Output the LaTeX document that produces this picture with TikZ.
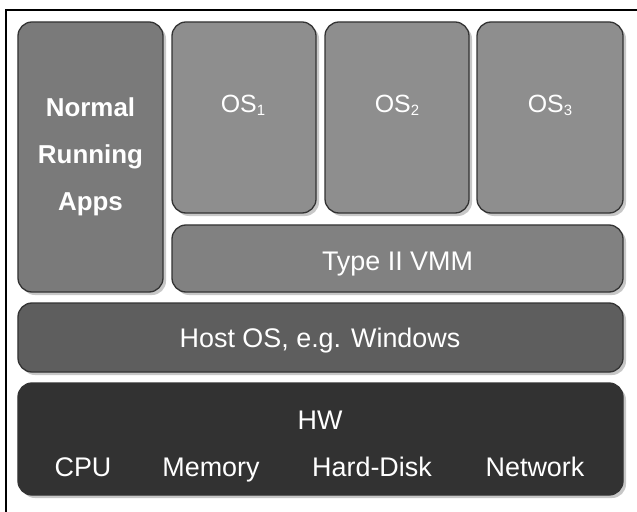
\documentclass[tikz,border=0pt]{standalone}
\usepackage{fontspec}
\setmainfont{Liberation Sans}
\usetikzlibrary{shadows}
\definecolor{edgecol}{HTML}{333333}
\definecolor{appsfill}{HTML}{7A7A7A}
\definecolor{osfill}{HTML}{8E8E8E}
\definecolor{vmmfill}{HTML}{818181}
\definecolor{hostfill}{HTML}{5E5E5E}
\definecolor{hwfill}{HTML}{323232}
\begin{document}
\begin{tikzpicture}[x=1bp,y=-1bp,
  layer/.style={draw=edgecol, line width=1.3bp, rounded corners=14bp, inner sep=0pt,
    drop shadow={shadow xshift=3bp, shadow yshift=-3bp, fill=black, opacity=0.22}},
  lbl/.style={text=white, inner sep=0pt, anchor=base, font=\fontsize{27}{32}\selectfont},
  boldlbl/.style={lbl, font=\fontsize{26}{32}\selectfont\bfseries},
  oslbl/.style={lbl, font=\fontsize{25}{30}\selectfont}]
\useasboundingbox (0,0) rectangle (637,512);
\fill[white] (0,0) rectangle (637,512);
% outer frame (open on right and bottom)
\draw[line width=2.5bp] (6,512) -- (6,10) -- (637,10);
% layers
\node[layer, fill=hwfill, minimum width=605bp, minimum height=112bp] (hw) at (320.5,439) {};
\node[layer, fill=hostfill, minimum width=605bp, minimum height=69bp] (host) at (320.5,337.5) {};
\node[layer, fill=vmmfill, minimum width=451bp, minimum height=67bp] (vmm) at (397.5,258.5) {};
\node[layer, fill=appsfill, minimum width=145bp, minimum height=270bp] (apps) at (90.5,157) {};
\node[layer, fill=osfill, minimum width=144bp, minimum height=191bp] (os1) at (244,117.5) {};
\node[layer, fill=osfill, minimum width=144bp, minimum height=191bp] (os2) at (397,117.5) {};
\node[layer, fill=osfill, minimum width=146bp, minimum height=191bp] (os3) at (550,117.5) {};
% labels
\node[boldlbl] (t1) at (90.5,117) {Normal};
\node[boldlbl] (t2) at (90.5,164) {Running};
\node[boldlbl] (t3) at (90.5,210.5) {Apps};
\node[oslbl] (o1) at (243,113) {OS\raisebox{-3bp}{\fontsize{15}{15}\selectfont 1}};
\node[oslbl] (o2) at (397,113) {OS\raisebox{-3bp}{\fontsize{15}{15}\selectfont 2}};
\node[oslbl] (o3) at (550,113) {OS\raisebox{-3bp}{\fontsize{15}{15}\selectfont 3}};
\node[lbl] (tv) at (397.5,270) {Type II VMM};
\node[lbl] (th) at (320,347) {Host OS, e.g. Windows};
\node[lbl] (tw) at (320,429) {HW};
\node[lbl] (c1) at (83,476) {CPU};
\node[lbl] (c2) at (211,476) {Memory};
\node[lbl] (c3) at (372,476) {Hard-Disk};
\node[lbl] (c4) at (535,476) {Network};
\end{tikzpicture}
\end{document}
